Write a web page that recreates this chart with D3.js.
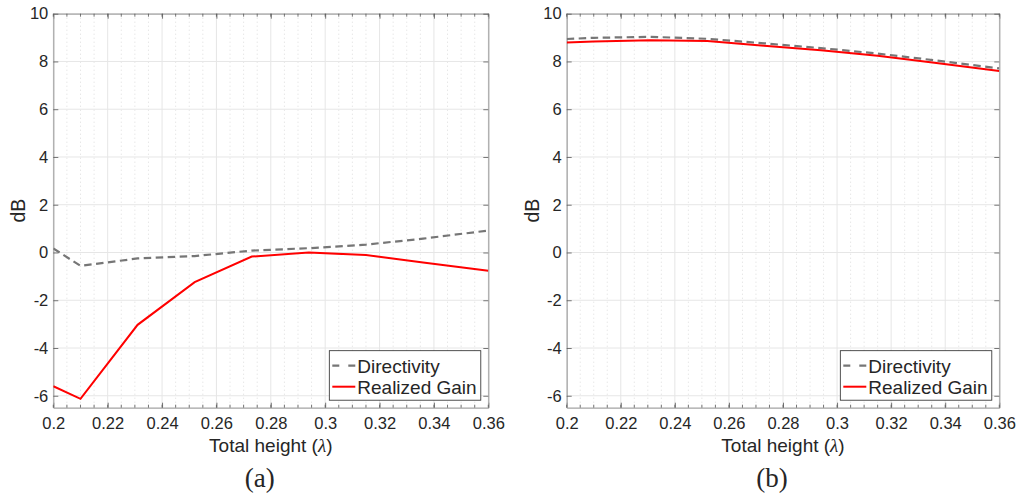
<!DOCTYPE html>
<html>
<head>
<meta charset="utf-8">
<script src="https://cdn.jsdelivr.net/npm/d3@7"></script>
<style>
  html, body { margin: 0; padding: 0; background: #fff; }
  svg { display: block; }
  text { font-family: "Liberation Sans", Arial, Helvetica, sans-serif; fill: #262626; }
</style>
</head>
<body>
<svg id="chart" width="1018" height="495"></svg>
<script>
// Total antenna height in wavelengths
const heights = [0.2, 0.21, 0.231, 0.252, 0.273, 0.294, 0.315, 0.336, 0.36];

// Panel (a)
const directivityA = [0.17, -0.56, -0.25, -0.15, 0.08, 0.18, 0.33, 0.58, 0.92];
const gainA = [-5.6, -6.13, -3.03, -1.24, -0.17, 0.0, -0.11, -0.42, -0.76];

// Panel (b)
const directivityB = [8.94, 8.99, 9.03, 8.95, 8.76, 8.56, 8.33, 8.05, 7.71];
const gainB = [8.79, 8.84, 8.89, 8.86, 8.66, 8.47, 8.24, 7.95, 7.6];

const yTicks = [-6, -4, -2, 0, 2, 4, 6, 8, 10];
const xTicks = [0.2, 0.22, 0.24, 0.26, 0.28, 0.3, 0.32, 0.34, 0.36];
const captions = ["(a)", "(b)"];
const seriesNames = ["Directivity", "Realized Gain"];

const svg = d3.select("#chart");

const panels = [
  { left: 53.3, right: 488.3, dir: directivityA, gain: gainA, caption: captions[0] },
  { left: 566.7, right: 999.3, dir: directivityB, gain: gainB, caption: captions[1] }
];
const plotTop = 13.7, plotBottom = 407.7;

const dashStyle = "7.5,4.5";

panels.forEach(p => {
  const g = svg.append("g");
  const x = d3.scaleLinear().domain([0.2, 0.36]).range([p.left, p.right]);
  const y = d3.scaleLinear().domain([-6.5, 10]).range([plotBottom, plotTop]);

  const minorX = d3.range(0, 33).map(i => 0.2 + i * 0.005).filter(v => v <= 0.3601);

  // minor grid (dotted)
  g.append("g").selectAll("line").data(minorX.filter(v => !xTicks.some(t => Math.abs(t - v) < 1e-6)))
    .join("line")
    .attr("x1", d => x(d)).attr("x2", d => x(d))
    .attr("y1", plotTop).attr("y2", plotBottom)
    .attr("stroke", "#dcdcdc").attr("stroke-width", 1)
    .attr("stroke-dasharray", "1,3");

  // major grid
  g.append("g").selectAll("line").data(xTicks)
    .join("line")
    .attr("x1", d => x(d)).attr("x2", d => x(d))
    .attr("y1", plotTop).attr("y2", plotBottom)
    .attr("stroke", "#e6e6e6").attr("stroke-width", 1);
  g.append("g").selectAll("line").data(yTicks)
    .join("line")
    .attr("x1", p.left).attr("x2", p.right)
    .attr("y1", d => y(d)).attr("y2", d => y(d))
    .attr("stroke", "#e6e6e6").attr("stroke-width", 1);

  // axes with inward ticks on all four sides
  const axB = g.append("g").attr("transform", `translate(0,${plotBottom})`)
    .call(d3.axisBottom(x).tickValues(xTicks).tickSizeInner(-5).tickSizeOuter(0).tickPadding(10)
      .tickFormat(d => String(+d.toFixed(2))));
  const axT = g.append("g").attr("transform", `translate(0,${plotTop})`)
    .call(d3.axisTop(x).tickValues(xTicks).tickSizeInner(-5).tickSizeOuter(0).tickFormat(""));
  const axL = g.append("g").attr("transform", `translate(${p.left},0)`)
    .call(d3.axisLeft(y).tickValues(yTicks).tickSizeInner(-5).tickSizeOuter(0).tickPadding(5)
      .tickFormat(d => String(d)));
  const axR = g.append("g").attr("transform", `translate(${p.right},0)`)
    .call(d3.axisRight(y).tickValues(yTicks).tickSizeInner(-5).tickSizeOuter(0).tickFormat(""));
  // minor x ticks
  [plotBottom, plotTop].forEach(yy => {
    g.append("g").selectAll("line").data(minorX)
      .join("line")
      .attr("x1", d => x(d)).attr("x2", d => x(d))
      .attr("y1", yy).attr("y2", yy === plotBottom ? yy - 3 : yy + 3)
      .attr("stroke", "#555").attr("stroke-width", 0.8);
  });
  [axB, axT, axL, axR].forEach(a => {
    a.select(".domain").attr("stroke", "#a3a3a3").attr("stroke-width", 1.2);
    a.selectAll(".tick line").attr("stroke", "#555").attr("stroke-width", 0.8);
    a.selectAll(".tick text").attr("font-size", 16.5).attr("fill", "#262626")
      .attr("font-family", "Liberation Sans, Arial, sans-serif");
  });

  // clip region for data lines
  const clipId = "clip" + Math.round(p.left);
  svg.append("clipPath").attr("id", clipId).append("rect")
    .attr("x", p.left).attr("y", plotTop).attr("width", p.right - p.left).attr("height", plotBottom - plotTop);

  const line = d3.line().x((d, i) => x(heights[i])).y(d => y(d));

  const data = g.append("g").attr("clip-path", `url(#${clipId})`);
  data.append("path").datum(p.dir).attr("d", line)
    .attr("fill", "none").attr("stroke", "#767676").attr("stroke-width", 2.2)
    .attr("stroke-dasharray", dashStyle);
  data.append("path").datum(p.gain).attr("d", line)
    .attr("fill", "none").attr("stroke", "#ff0000").attr("stroke-width", 2);

  // axis titles
  g.append("text")
    .attr("x", (p.left + p.right) / 2).attr("y", 452)
    .attr("text-anchor", "middle").attr("font-size", 19)
    .html('Total height (<tspan font-family="Liberation Serif, serif" font-style="italic">λ</tspan>)');
  g.append("text")
    .attr("transform", `translate(${p.left - 28},${(plotTop + plotBottom) / 2}) rotate(-90)`)
    .attr("text-anchor", "middle").attr("font-size", 19.5)
    .text("dB");

  // legend
  const lx = p.right - 159, ly = 350.7, lw = 151.5, lh = 49.5;
  const lg = g.append("g");
  lg.append("rect").attr("x", lx).attr("y", ly).attr("width", lw).attr("height", lh)
    .attr("fill", "#fff").attr("stroke", "#262626").attr("stroke-width", 0.8);
  lg.append("line").attr("x1", lx + 3).attr("x2", lx + 26).attr("y1", ly + 15).attr("y2", ly + 15)
    .attr("stroke", "#767676").attr("stroke-width", 2.2).attr("stroke-dasharray", "7,9");
  lg.append("line").attr("x1", lx + 3).attr("x2", lx + 26).attr("y1", ly + 36).attr("y2", ly + 36)
    .attr("stroke", "#ff0000").attr("stroke-width", 2);
  lg.append("text").attr("x", lx + 28).attr("y", ly + 15).attr("dy", "0.36em")
    .attr("font-size", 19).text(seriesNames[0]);
  lg.append("text").attr("x", lx + 28).attr("y", ly + 36).attr("dy", "0.36em")
    .attr("font-size", 19).text(seriesNames[1]);

  // caption
  g.append("text")
    .attr("x", (p.left + p.right) / 2 - 11).attr("y", 487)
    .attr("text-anchor", "middle").attr("font-size", 27)
    .style("font-family", "'Liberation Serif', serif")
    .text(p.caption);
});
</script>
</body>
</html>
